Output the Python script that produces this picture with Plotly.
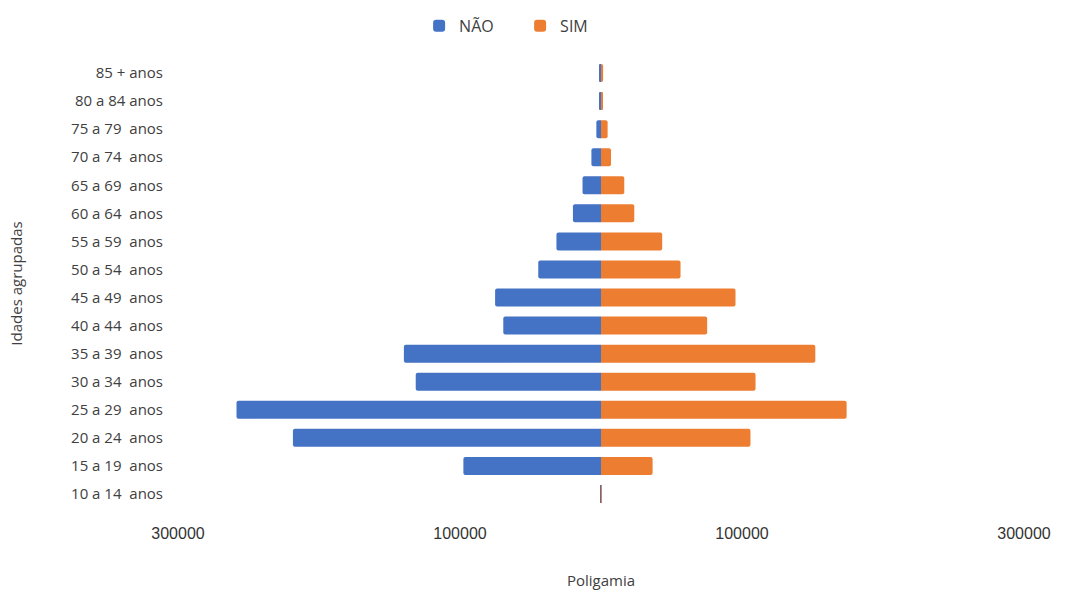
import plotly.graph_objects as go

categorias = ["10 a 14  anos", "15 a 19  anos", "20 a 24  anos", "25 a 29  anos",
              "30 a 34  anos", "35 a 39  anos", "40 a 44  anos", "45 a 49  anos",
              "50 a 54  anos", "55 a 59  anos", "60 a 64  anos", "65 a 69  anos",
              "70 a 74  anos", "75 a 79  anos", "80 a 84 anos", "85 + anos"]
nao = [500, 97600, 218500, 258500, 131400, 139800, 69300, 75100,
       44500, 31600, 19900, 13100, 6800, 3300, 1000, 1000]
sim = [200, 36600, 106000, 174200, 109600, 152000, 75300, 95400,
       56400, 43400, 23600, 16500, 7100, 4700, 1200, 1500]
tick_vals = [-300000, -100000, 100000, 300000]
tick_text = ["300000", "100000", "100000", "300000"]

fig = go.Figure()
fig.add_trace(go.Bar(y=categorias, x=[-v for v in nao], name="NÃO", orientation="h",
                     marker=dict(color="#4472C4", line=dict(width=0))))
fig.add_trace(go.Bar(y=categorias, x=sim, name="SIM", orientation="h",
                     marker=dict(color="#ED7D31", line=dict(width=0))))

W, H = 1066, 590
fig.update_layout(
    width=W, height=H,
    barmode="relative", bargap=0.36, barcornerradius=2,
    plot_bgcolor="white", paper_bgcolor="white",
    margin=dict(l=178, r=42, t=59, b=82),
    font=dict(family="Open Sans", size=15, color="#404040"),
    legend=dict(orientation="h", x=0.285, xanchor="left", y=0.985, yanchor="top",
                yref="container", font=dict(size=16, color="#404040"),
                itemwidth=30, entrywidth=56, traceorder="normal"),
    showlegend=True,
)
fig.update_xaxes(range=[-300000, 300000], tickvals=tick_vals, ticktext=tick_text,
                 showgrid=False, zeroline=False, showline=False, ticks="",
                 automargin=False,
                 tickfont=dict(family="Liberation Sans", size=16, color="#333333"),
                 ticklabelstandoff=14,
                 title=dict(text="Poligamia", font=dict(size=15, color="#404040"), standoff=34))
fig.update_yaxes(showgrid=False, zeroline=False, showline=False, ticks="",
                 automargin=False,
                 tickfont=dict(size=15, color="#404040"), ticklabelstandoff=14,
                 range=[-0.5, 15.5],
                 title=dict(text="Idades agrupadas", font=dict(size=15, color="#404040"), standoff=44))

fig.write_html("out.html")
